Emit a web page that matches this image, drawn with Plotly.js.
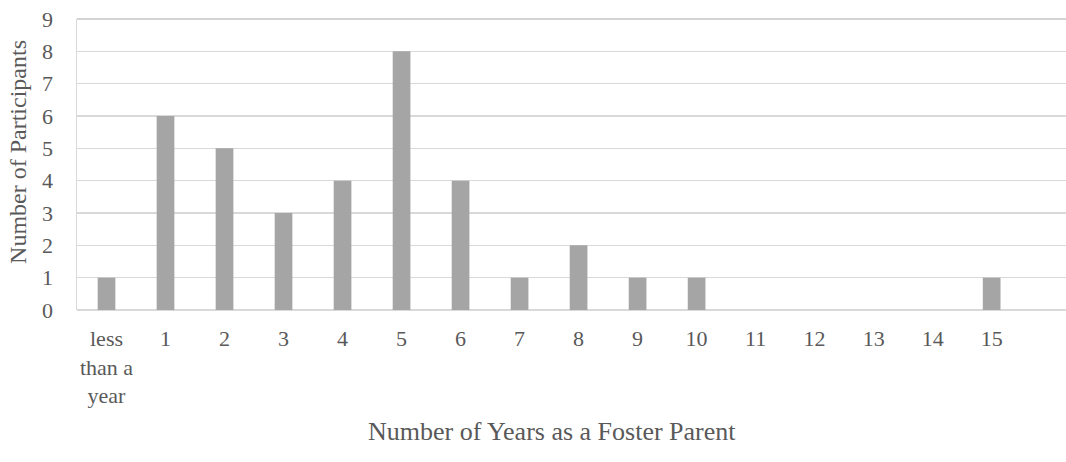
<!DOCTYPE html>
<html>
<head>
<meta charset="utf-8">
<script src="https://cdn.plot.ly/plotly-3.0.1.min.js"></script>
<style>
  html, body { margin: 0; padding: 0; background: #fff; overflow: hidden; }
  #chart { width: 1066px; height: 462px; }
</style>
</head>
<body>
<div id="chart"></div>
<script>
// Years of fostering experience reported by participants
const categories = ["less than a year", "1", "2", "3", "4", "5", "6", "7", "8", "9", "10", "11", "12", "13", "14", "15"];
const tickLabels = ["less<br>than a<br>year", "1", "2", "3", "4", "5", "6", "7", "8", "9", "10", "11", "12", "13", "14", "15"];
const participants = [1, 6, 5, 3, 4, 8, 4, 1, 2, 1, 1, 0, 0, 0, 0, 1];

const xPositions = categories.map((_, i) => i);

const textColor = "#595959";
const serif = "Liberation Serif";

const trace = {
  type: "bar",
  x: xPositions,
  y: participants,
  width: 0.3,
  marker: { color: "#a5a5a5" },
  hoverinfo: "skip"
};

const layout = {
  width: 1066,
  height: 462,
  margin: { l: 77, r: 0, t: 19, b: 152 },
  paper_bgcolor: "#ffffff",
  plot_bgcolor: "#ffffff",
  showlegend: false,
  font: { family: serif, size: 22, color: textColor },
  xaxis: {
    range: [-0.5, 16.26],
    tickmode: "array",
    tickvals: xPositions,
    ticktext: tickLabels,
    ticks: "",
    showgrid: false,
    zeroline: false,
    showline: false,
    ticklabelstandoff: 13,
    tickfont: { family: serif, size: 22, color: textColor }
  },
  yaxis: {
    range: [0, 9],
    dtick: 1,
    ticks: "",
    showgrid: true,
    gridcolor: "#d9d9d9",
    gridwidth: 1.3,
    zeroline: true,
    zerolinecolor: "#d9d9d9",
    zerolinewidth: 1.6,
    showline: true,
    linecolor: "#d9d9d9",
    linewidth: 1.5,
    ticklabelstandoff: 18,
    tickfont: { family: serif, size: 22, color: textColor }
  },
  shapes: [
    {
      type: "line", xref: "paper", yref: "paper",
      x0: 0, x1: 1, y0: 1, y1: 1,
      line: { color: "#c4c4c4", width: 1.5 }
    }
  ],
  annotations: [
    {
      text: "Number of Years as a Foster Parent",
      xref: "paper", yref: "paper",
      x: 0.48, y: -0.419,
      xanchor: "center", yanchor: "middle",
      showarrow: false,
      font: { family: serif, size: 26, color: textColor }
    },
    {
      text: "Number of Participants",
      xref: "paper", yref: "paper",
      x: -0.0597, y: 0.543,
      xanchor: "center", yanchor: "middle",
      textangle: -90,
      showarrow: false,
      font: { family: serif, size: 24, color: textColor }
    }
  ]
};

Plotly.newPlot("chart", [trace], layout, { displayModeBar: false, staticPlot: true });
</script>
</body>
</html>
